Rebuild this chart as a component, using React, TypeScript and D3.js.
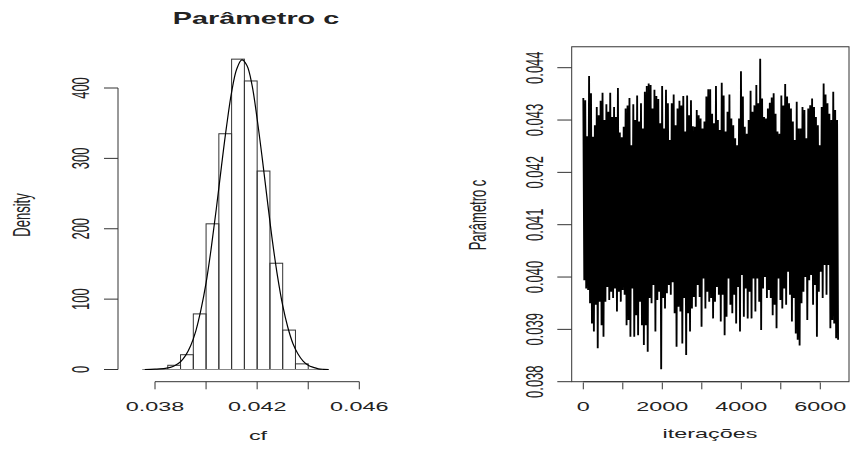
import React from "react";
import * as d3 from "d3";

// ---------- Left panel: histogram of cf ----------
const histBreaks = [0.0385, 0.039, 0.0395, 0.04, 0.0405, 0.041, 0.0415, 0.042, 0.0425, 0.043, 0.0435, 0.044];
const histDensity = [6, 21, 79, 207, 335, 441, 410, 282, 151, 56, 8];

const curveX = [0.0376, 0.038, 0.0384, 0.0386, 0.0388, 0.039, 0.0392, 0.0394, 0.0396, 0.0398, 0.04, 0.0402, 0.0404, 0.0406, 0.0408, 0.041, 0.0412, 0.0414, 0.0416, 0.0418, 0.042, 0.0422, 0.0424, 0.0426, 0.0428, 0.043, 0.0432, 0.0434, 0.0436, 0.0438, 0.044, 0.0442, 0.0444, 0.0446, 0.0448];
const curveY = [0, 0.5, 1.5, 3, 6, 11, 20, 34, 55, 85, 123, 172, 228, 288, 345, 394, 427, 440, 432, 404, 356, 300, 240, 182, 132, 91, 60, 37, 22, 12, 6, 3, 1, 0.3, 0];
const baselineRange = [0.0375, 0.0448];

const leftXTicks = [0.038, 0.04, 0.042, 0.044, 0.046];
const leftXTickLabels = ["0.038", "", "0.042", "", "0.046"];
const leftYTicks = [0, 100, 200, 300, 400];
const leftYTickLabels = ["0", "100", "200", "300", "400"];

// ---------- Right panel: trace plot ----------
const traceIterations = 6450;
const traceUpper = [
  0.04342, 0.04338, 0.04269, 0.04384, 0.04351, 0.04268, 0.0429, 0.04325, 0.04309, 0.04337,
  0.04352, 0.043, 0.0433, 0.04316, 0.04352, 0.04306, 0.04325, 0.04306, 0.04361, 0.04276,
  0.04267, 0.04287, 0.04322, 0.04328, 0.04342, 0.04252, 0.0433, 0.043, 0.04347, 0.04297,
  0.04332, 0.04284, 0.04354, 0.04365, 0.0437, 0.04367, 0.04322, 0.04358, 0.04346, 0.0434,
  0.04294, 0.04365, 0.04284, 0.04358, 0.04332, 0.04262, 0.04332, 0.04349, 0.0429, 0.04322,
  0.04337, 0.04328, 0.04346, 0.04278, 0.04347, 0.04309, 0.04338, 0.04288, 0.04287, 0.04319,
  0.04309, 0.04303, 0.04284, 0.04297, 0.04345, 0.04359,
  0.04359, 0.04312, 0.04294, 0.04365, 0.043, 0.04281, 0.04371, 0.04347, 0.04278, 0.04316,
  0.04349, 0.04303, 0.0429, 0.04265, 0.04252, 0.04303, 0.04393, 0.04345, 0.04287, 0.04274,
  0.043, 0.04356, 0.04316, 0.04328, 0.04367, 0.04332, 0.04417, 0.04341, 0.04306, 0.04303,
  0.04322, 0.04333, 0.04343, 0.04351, 0.04312, 0.04278, 0.04274, 0.04347, 0.04328, 0.04369,
  0.04345, 0.04332, 0.04322, 0.04297, 0.04262, 0.04335, 0.04284, 0.04284, 0.04325, 0.04319,
  0.04265, 0.04322, 0.04328, 0.04341, 0.04325, 0.04306, 0.0429, 0.04252, 0.04325, 0.0437,
  0.04349, 0.04332, 0.04312, 0.043, 0.04354, 0.04319, 0.043,
];
const traceLower = [
  0.03994, 0.03978, 0.03975, 0.0395, 0.03911, 0.03896, 0.03947, 0.03864, 0.03953, 0.03908,
  0.03886, 0.03953, 0.03981, 0.03956, 0.03972, 0.0396, 0.03978, 0.03934, 0.03972, 0.03953,
  0.03975, 0.03966, 0.03908, 0.03918, 0.03886, 0.03978, 0.03886, 0.03927, 0.03889, 0.03953,
  0.03908, 0.0387, 0.03908, 0.03857, 0.0396, 0.0395, 0.03985, 0.03896, 0.03956, 0.03972,
  0.03824, 0.0396, 0.0394, 0.03969, 0.03985, 0.03966, 0.0399, 0.03931, 0.03867, 0.03943,
  0.03934, 0.03873, 0.0396, 0.03851, 0.03931, 0.03896, 0.0394, 0.03962, 0.03943, 0.03985,
  0.03962, 0.03905, 0.03997, 0.0394, 0.03972, 0.03953,
  0.0396, 0.03921, 0.03953, 0.03981, 0.03966, 0.03915, 0.03966, 0.03889, 0.03924, 0.03997,
  0.03947, 0.03931, 0.03966, 0.03911, 0.03981, 0.03896, 0.04004, 0.03924, 0.03978, 0.03921,
  0.03972, 0.03921, 0.03997, 0.03934, 0.03997, 0.03953, 0.03899, 0.03978, 0.04, 0.0396,
  0.03975, 0.0396, 0.03927, 0.03947, 0.03902, 0.03997, 0.03956, 0.0394, 0.03978, 0.03947,
  0.0401, 0.03966, 0.03915, 0.0396, 0.03892, 0.0388, 0.03869, 0.0395, 0.03972, 0.04,
  0.03918, 0.03994, 0.04004, 0.03947, 0.03985, 0.03886, 0.03972, 0.0401, 0.0396, 0.04023,
  0.03966, 0.04023, 0.03902, 0.03918, 0.03911, 0.03883, 0.0388,
];

const rightYTicks = [0.038, 0.039, 0.04, 0.041, 0.042, 0.043, 0.044];
const rightYTickLabels = ["0.038", "0.039", "0.040", "0.041", "0.042", "0.043", "0.044"];
const rightXTicks = [0, 1000, 2000, 3000, 4000, 5000, 6000];
const rightXTickLabels = ["0", "", "2000", "", "4000", "", "6000"];

const W = 850;
const H = 449;
const SX = 1.8;
const FONT = "'Liberation Sans', Arial, sans-serif";
const INK = "#222";
const AXIS = "#333";

function HText({ x, y, size, bold, children }: any) {
  return (
    <text
      transform={`translate(${x},${y}) scale(${SX},1)`}
      textAnchor="middle"
      fontFamily={FONT}
      fontSize={size}
      fontWeight={bold ? "bold" : "normal"}
      fill={INK}
    >
      {children}
    </text>
  );
}

function VText({ x, y, size, children }: any) {
  return (
    <text
      transform={`translate(${x},${y}) scale(${SX},1) rotate(-90)`}
      textAnchor="middle"
      fontFamily={FONT}
      fontSize={size}
      fill={INK}
    >
      {children}
    </text>
  );
}

export default function App() {
  // Left scales
  const lx = d3.scaleLinear().domain([0.038, 0.046]).range([155, 359.3]);
  const ly = d3.scaleLinear().domain([0, 400]).range([369.5, 88]);
  const curveLine = d3
    .line<number>()
    .x((_, i) => lx(curveX[i]))
    .y((d) => ly(d))
    .curve(d3.curveCatmullRom);

  // Right scales
  const rx = d3.scaleLinear().domain([-294, 6727]).range([571.7, 849]);
  const ry = d3.scaleLinear().domain([0.038, 0.044]).range([381.7, 67.7]);

  // strictly alternate the read upper/lower extremes, as the chain does
  const seq: number[] = [];
  const n = Math.max(traceUpper.length, traceLower.length);
  for (let k = 0; k < n; k++) {
    if (k < traceUpper.length) seq.push(traceUpper[k]);
    if (k < traceLower.length) seq.push(traceLower[k]);
  }
  const step = traceIterations / (seq.length - 1);
  const traceLine = d3
    .line<number>()
    .x((_, i) => rx(i * step))
    .y((d) => ry(d));

  const boxTop = ry(0.0444);

  return (
    <svg width={W} height={H} style={{ position: "absolute", left: 0, top: 0, background: "#fff" }}>
      <rect width={W} height={H} fill="#fff" />
      {/* ---------- Left panel ---------- */}
      <HText x={256} y={23.5} size={16} bold>
        Parâmetro c
      </HText>
      {histDensity.map((d, i) => (
        <rect
          key={i}
          x={lx(histBreaks[i])}
          y={ly(d)}
          width={lx(histBreaks[i + 1]) - lx(histBreaks[i])}
          height={ly(0) - ly(d)}
          fill="none"
          stroke="#333"
          strokeWidth={1}
        />
      ))}
      <line x1={lx(baselineRange[0])} x2={lx(baselineRange[1])} y1={ly(0)} y2={ly(0)} stroke="#888" strokeWidth={1.2} />
      <path d={curveLine(curveY) || ""} fill="none" stroke="#000" strokeWidth={1.2} />
      <line x1={118} x2={118} y1={ly(0)} y2={ly(400)} stroke={AXIS} />
      {leftYTicks.map((t, i) => (
        <g key={t}>
          <line x1={104} x2={118} y1={ly(t)} y2={ly(t)} stroke={AXIS} />
          <VText x={89} y={ly(t)} size={13}>
            {leftYTickLabels[i]}
          </VText>
        </g>
      ))}
      <VText x={30} y={215} size={13}>
        Density
      </VText>
      <line x1={lx(0.038)} x2={lx(0.046)} y1={381.7} y2={381.7} stroke={AXIS} />
      {leftXTicks.map((t, i) => (
        <g key={t}>
          <line x1={lx(t)} x2={lx(t)} y1={381.7} y2={389.3} stroke={AXIS} />
          {leftXTickLabels[i] && (
            <HText x={lx(t)} y={411} size={13}>
              {leftXTickLabels[i]}
            </HText>
          )}
        </g>
      ))}
      <HText x={258} y={440} size={13}>
        cf
      </HText>

      {/* ---------- Right panel ---------- */}
      <path d={traceLine(seq) || ""} fill="none" stroke="#000" strokeWidth={1.85} strokeLinejoin="bevel" />
      <rect x={571.7} y={boxTop} width={849 - 571.7} height={381.7 - boxTop} fill="none" stroke={AXIS} strokeWidth={1} />
      {rightYTicks.map((t, i) => (
        <g key={t}>
          <line x1={557.3} x2={571.7} y1={ry(t)} y2={ry(t)} stroke={AXIS} />
          <VText x={543} y={ry(t)} size={13}>
            {rightYTickLabels[i]}
          </VText>
        </g>
      ))}
      <VText x={486} y={215} size={13}>
        Parâmetro c
      </VText>
      <line x1={rx(0)} x2={rx(6000)} y1={381.7} y2={381.7} stroke={AXIS} />
      {rightXTicks.map((t, i) => (
        <g key={t}>
          <line x1={rx(t)} x2={rx(t)} y1={382.5} y2={389.3} stroke={AXIS} />
          {rightXTickLabels[i] && (
            <HText x={rx(t)} y={411} size={13}>
              {rightXTickLabels[i]}
            </HText>
          )}
        </g>
      ))}
      <HText x={710} y={438} size={13}>
        iterações
      </HText>
    </svg>
  );
}
